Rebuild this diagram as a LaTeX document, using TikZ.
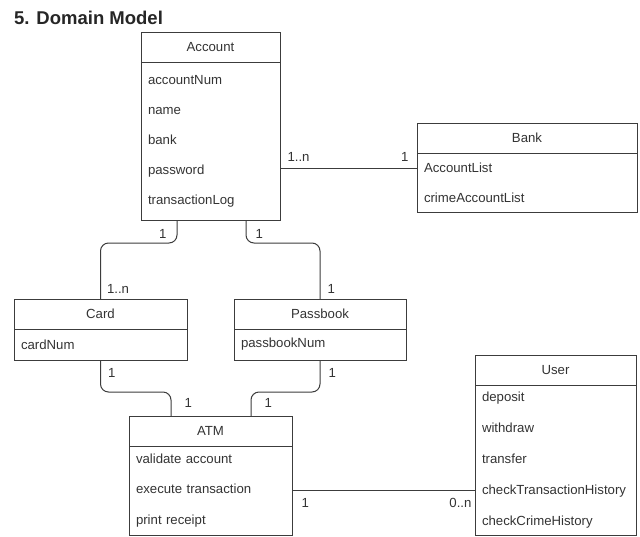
\documentclass[tikz,border=0pt]{standalone}
\usepackage{fontspec}
\setmainfont{Liberation Sans}
\usetikzlibrary{positioning}
\hyphenpenalty=10000
\exhyphenpenalty=10000
\definecolor{umlline}{HTML}{3C3C3C}
\definecolor{umltext}{HTML}{333333}

\begin{document}
\begin{tikzpicture}[
    x=1pt, y=-1pt,
    head/.style={draw=umlline, line width=1pt, outer sep=0pt, inner sep=0pt, minimum height=30pt, minimum width=#1, anchor=north west, text=umltext, font=\fontsize{13.2}{15}\selectfont},
    body/.style={draw=umlline, line width=1pt, outer sep=0pt, inner xsep=7pt, inner ysep=0pt, text width=#1, align=left, text=umltext, font=\fontsize{13.2}{30}\selectfont},
    wide/.style={font=\fontsize{13.2}{30.8}\selectfont},
    link/.style={draw=umlline, line width=1pt, rounded corners=8pt},
    lbl/.style={inner sep=0pt, text=umltext, font=\fontsize{13.2}{15}\selectfont}
]
    \useasboundingbox (0,0) rectangle (640,536);

    % Title
    \node[anchor=west, inner sep=0pt, font=\fontsize{18.5}{20}\selectfont\bfseries, text=black!85] (title) at (14,18) {5. Domain Model};

    % Classes
    \node[head=139pt] (acc) at (141,32) {Account};
    \node[body=125pt, minimum height=158pt, below=0pt of acc] (accb) {accountNum\\name\\bank\\password\\transactionLog};

    \node[head=220pt] (bank) at (417,123) {Bank};
    \node[body=206pt, minimum height=59pt, below=0pt of bank] (bankb) {AccountList\\crimeAccountList};

    \node[head=173pt] (card) at (14,299) {Card};
    \node[body=159pt, minimum height=31pt, below=0pt of card] (cardb) {cardNum};

    \node[head=172pt] (pass) at (234,299) {Passbook};
    \node[body=158pt, minimum height=31pt, below=0pt of pass] (passb) {passbookNum};

    \node[head=163pt] (atm) at (129,416) {ATM};
    \node[body=149pt, wide, minimum height=89pt, below=0pt of atm] (atmb) {validate account\\execute transaction\\print receipt};

    \node[head=161pt] (user) at (475,355) {User};
    \node[body=147pt, wide, minimum height=150pt, below=0pt of user] (userb) {deposit\\withdraw\\transfer\\checkTransactionHistory\\checkCrimeHistory};

    % Associations
    \draw[link] ([yshift=-27pt]accb.east) node[lbl, anchor=south west, xshift=7pt, yshift=6pt] {1..n}
        -- ([yshift=-27pt]accb.east -| bankb.west) node[lbl, anchor=south east, xshift=-8pt, yshift=6pt] {1};
    \draw[link] ([xshift=36pt]accb.south west) node[lbl, anchor=north east, xshift=-10pt, yshift=-9pt] {1}
        -- ++(0,23) -| (card.north) node[lbl, anchor=south west, xshift=6pt, yshift=5pt] {1..n};
    \draw[link] ([xshift=105pt]accb.south west) node[lbl, anchor=north west, xshift=9pt, yshift=-9pt] {1}
        -- ++(0,23) -| (pass.north) node[lbl, anchor=south west, xshift=7pt, yshift=5pt] {1};
    \draw[link] (cardb.south) node[lbl, anchor=north west, xshift=7pt, yshift=-8pt] {1}
        -- ++(0,32) -| ([xshift=42pt]atm.north west) node[lbl, anchor=south west, xshift=13pt, yshift=8pt] {1};
    \draw[link] (passb.south) node[lbl, anchor=north west, xshift=8pt, yshift=-8pt] {1}
        -- ++(0,32) -| ([xshift=122pt]atm.north west) node[lbl, anchor=south west, xshift=13pt, yshift=8pt] {1};
    \draw[link] (atmb.east) node[lbl, anchor=north west, xshift=9pt, yshift=-7pt] {1}
        -- (atmb.east -| userb.west) node[lbl, anchor=north east, xshift=-3pt, yshift=-7pt] {0..n};
\end{tikzpicture}
\end{document}
